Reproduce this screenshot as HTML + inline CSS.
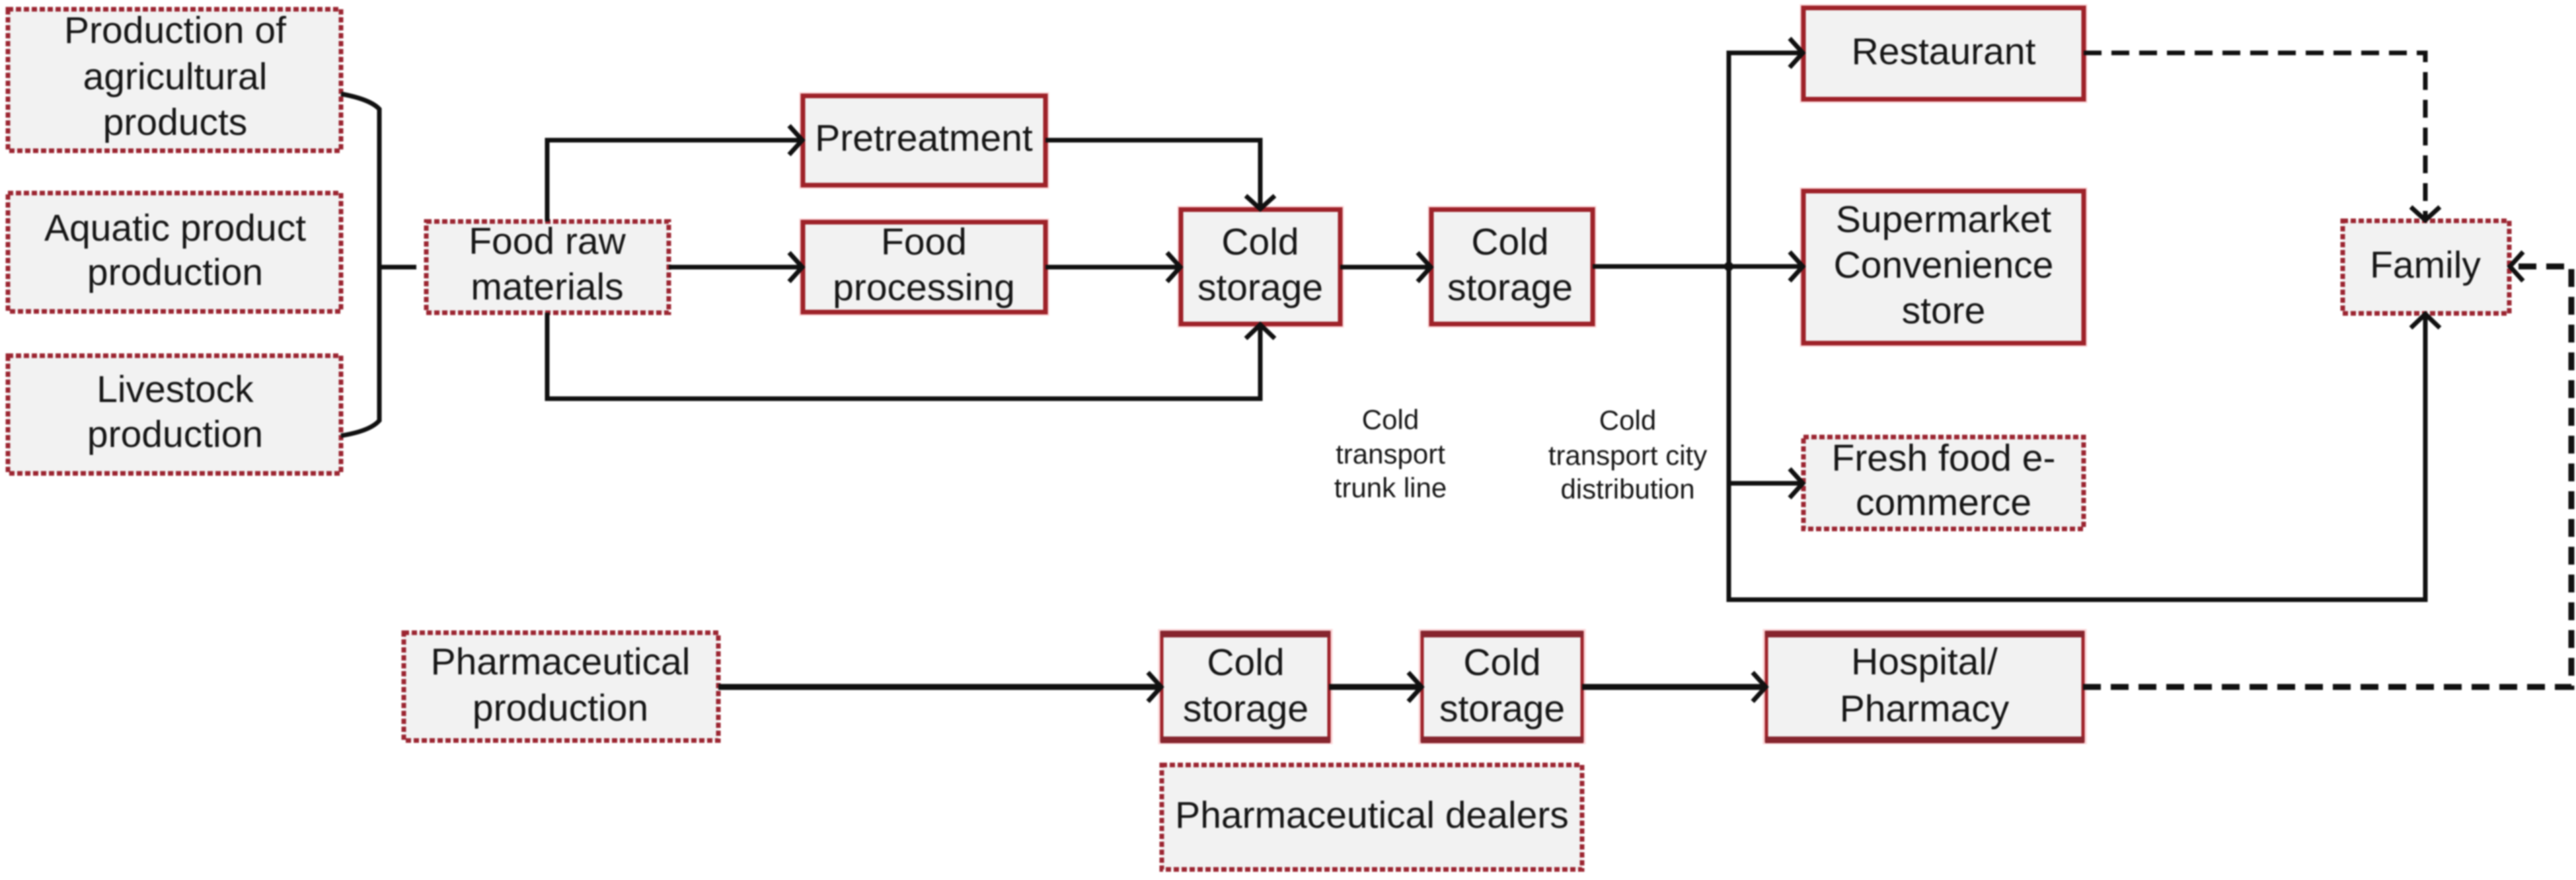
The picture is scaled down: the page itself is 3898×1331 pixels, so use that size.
<!DOCTYPE html>
<html>
<head>
<meta charset="utf-8">
<style>
html,body{margin:0;padding:0;background:#fff;width:3898px;height:1331px;overflow:hidden}
svg{display:block;filter:blur(1px)}
text{font-family:"Liberation Sans",Arial,sans-serif;font-size:57px;fill:#161616;text-anchor:middle}
text.s{font-size:42px}
.h{fill:none;stroke:#fbd4d6;stroke-width:11}
.b{fill:#f2f2f2;stroke:#9e2229;stroke-width:7}
.n{fill:#f2f2f2;stroke:#9e2229;stroke-width:5}
.t{fill:none;stroke:#86252e;stroke-width:10}
.d{fill:#f2f2f2;stroke:#9c2632;stroke-width:7;stroke-dasharray:8 4}
.l{fill:none;stroke:#111;stroke-width:7}
.m{fill:none;stroke:#111;stroke-width:9}
.k{fill:none;stroke:#111;stroke-width:7;stroke-dasharray:27 15}
.a{fill:none;stroke:#111;stroke-width:7}
</style>
</head>
<body>
<svg width="3898" height="1331" viewBox="0 0 3898 1331" xmlns="http://www.w3.org/2000/svg">
<!-- solid boxes -->
<g>
<rect class="h" x="1215" y="145" width="367" height="135"/><rect class="b" x="1215" y="145" width="367" height="135"/>
<rect class="h" x="1215" y="336" width="367" height="136"/><rect class="b" x="1215" y="336" width="367" height="136"/>
<rect class="h" x="1787" y="317" width="241" height="173"/><rect class="b" x="1787" y="317" width="241" height="173"/>
<rect class="h" x="2166" y="317" width="244" height="173"/><rect class="b" x="2166" y="317" width="244" height="173"/>
<rect class="h" x="2729" y="12" width="424" height="138"/><rect class="b" x="2729" y="12" width="424" height="138"/>
<rect class="h" x="2729" y="289" width="424" height="230"/><rect class="b" x="2729" y="289" width="424" height="230"/>
<rect class="h" x="1758" y="957" width="253" height="163"/><rect class="n" x="1758" y="957" width="253" height="163"/>
<path class="t" d="M1756 959 H2013 M1756 1119 H2013"/>
<rect class="h" x="2152" y="957" width="242" height="163"/><rect class="n" x="2152" y="957" width="242" height="163"/>
<path class="t" d="M2150 959 H2396 M2150 1119 H2396"/>
<rect class="h" x="2673" y="957" width="479" height="163"/><rect class="n" x="2673" y="957" width="479" height="163"/>
<path class="t" d="M2671 959 H3154 M2671 1119 H3154"/>
</g>
<!-- dashed boxes -->
<g>
<rect class="d" x="12" y="14" width="504" height="214"/>
<rect class="d" x="12" y="292" width="504" height="179"/>
<rect class="d" x="12" y="538" width="504" height="178"/>
<rect class="d" x="645" y="335" width="367" height="138"/>
<rect class="d" x="2729" y="661" width="424" height="139"/>
<rect class="d" x="3545" y="334" width="252" height="140"/>
<rect class="d" x="611" y="957" width="476" height="163"/>
<rect class="d" x="1758" y="1157" width="636" height="158"/>
</g>
<!-- connectors -->
<path class="l" d="M516 142 Q560 150 574 165 V636 Q560 652 516 659"/>
<path class="l" d="M574 404 H630"/>
<path class="l" d="M828 335 V212 H1212"/>
<path class="a" d="M1194 190 L1214 212 L1194 234"/>
<path class="l" d="M1012 404 H1212"/>
<path class="a" d="M1194 382 L1214 404 L1194 426"/>
<path class="l" d="M828 473 V603 H1907 V493"/>
<path class="a" d="M1885 512 L1907 491 L1929 512"/>
<path class="l" d="M1582 212 H1907 V314"/>
<path class="a" d="M1885 296 L1907 316 L1929 296"/>
<path class="l" d="M1582 404 H1784"/>
<path class="a" d="M1766 382 L1786 404 L1766 426"/>
<path class="l" d="M2028 404 H2163"/>
<path class="a" d="M2145 382 L2165 404 L2145 426"/>
<path class="l" d="M2410 403 H2726"/>
<path class="a" d="M2708 381 L2728 403 L2708 425"/>
<circle cx="2616" cy="403" r="7" fill="#111"/>
<path class="l" d="M2726 80 H2616 V907 H3670 V477"/>
<path class="a" d="M2708 58 L2728 80 L2708 102"/>
<path class="l" d="M2616 731 H2726"/>
<path class="a" d="M2708 709 L2728 731 L2708 753"/>
<path class="a" d="M3648 496 L3670 475 L3692 496"/>
<path class="k" d="M3153 80 H3670 V331"/>
<path class="a" d="M3648 313 L3670 333 L3692 313"/>
<path class="k" style="stroke-width:9" d="M3152 1039 H3891 V403 H3800"/>
<path class="a" d="M3818 381 L3798 403 L3818 425"/>
<path class="m" d="M1087 1039 H1755"/>
<path class="a" d="M1737 1017 L1757 1039 L1737 1061"/>
<path class="m" d="M2011 1039 H2149"/>
<path class="a" d="M2131 1017 L2151 1039 L2131 1061"/>
<path class="m" d="M2394 1039 H2670"/>
<path class="a" d="M2652 1017 L2672 1039 L2652 1061"/>
</g>

<!-- labels -->
<text x="265" y="65">Production of</text>
<text x="265" y="135">agricultural</text>
<text x="265" y="204">products</text>
<text x="265" y="364">Aquatic product</text>
<text x="265" y="431">production</text>
<text x="265" y="608">Livestock</text>
<text x="265" y="676">production</text>
<text x="828" y="384">Food raw</text>
<text x="828" y="453">materials</text>
<text x="1398" y="228">Pretreatment</text>
<text x="1398" y="385">Food</text>
<text x="1398" y="454">processing</text>
<text x="1907" y="385">Cold</text>
<text x="1907" y="454">storage</text>
<text x="2285" y="385">Cold</text>
<text x="2285" y="454">storage</text>
<text class="s" x="2104" y="649">Cold</text>
<text class="s" x="2104" y="701">transport</text>
<text class="s" x="2104" y="752">trunk line</text>
<text class="s" x="2463" y="650">Cold</text>
<text class="s" x="2463" y="703">transport city</text>
<text class="s" x="2463" y="754">distribution</text>
<text x="2941" y="97">Restaurant</text>
<text x="2941" y="351">Supermarket</text>
<text x="2941" y="420">Convenience</text>
<text x="2941" y="489">store</text>
<text x="2941" y="712">Fresh food e-</text>
<text x="2941" y="779">commerce</text>
<text x="3670" y="420">Family</text>
<text x="848" y="1020">Pharmaceutical</text>
<text x="848" y="1090">production</text>
<text x="1885" y="1021">Cold</text>
<text x="1885" y="1091">storage</text>
<text x="2273" y="1021">Cold</text>
<text x="2273" y="1091">storage</text>
<text x="2912" y="1020">Hospital/</text>
<text x="2912" y="1091">Pharmacy</text>
<text x="2076" y="1252">Pharmaceutical dealers</text>
</svg>
</body>
</html>
